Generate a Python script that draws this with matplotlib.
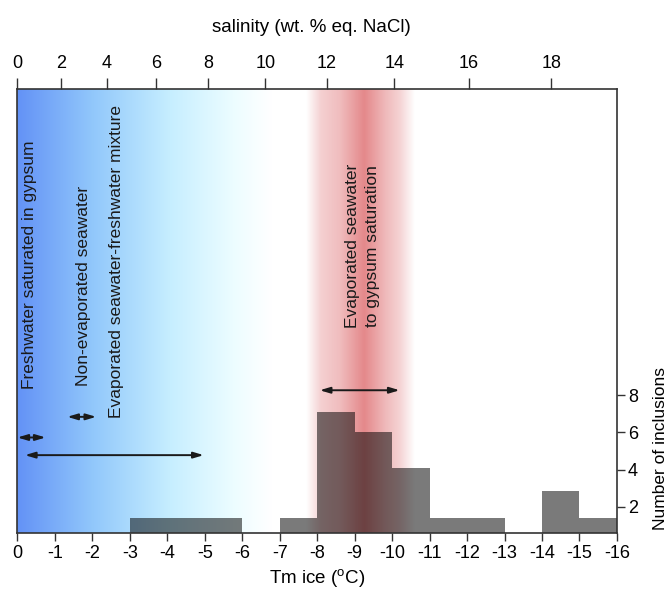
import numpy as np
import matplotlib
matplotlib.use("Agg")
import matplotlib.pyplot as plt
from matplotlib.colors import LinearSegmentedColormap

plt.rcParams['font.family'] = ['Liberation Sans', 'DejaVu Sans']

# histogram of Tm ice (bins of 1 degree, from 0 down to -16)
bin_edges = np.arange(0, -17, -1)
counts = [0, 0, 0, 1.4, 1.4, 1.4, 0, 1.4, 7.1, 6.0, 4.1, 1.4, 1.4, 0, 2.85, 1.4]

sal_ticks = [0, 2, 4, 6, 8, 10, 12, 14, 16, 18]
tm_ticks = list(range(0, -17, -1))
y_ticks = [2, 4, 6, 8]

# double arrows (Tm start, Tm end, y level)
arrows = [
    (0.0, -0.75, 5.73),
    (-1.33, -2.1, 6.84),
    (-0.2, -4.97, 4.78),
    (-8.07, -10.2, 8.27),
]
labels = [
    ("Freshwater saturated in gypsum", -0.33, 15.0),
    ("Non-evaporated seawater", -1.75, 13.9),
    ("Evaporated seawater-freshwater mixture", -2.65, 15.2),
    ("Evaporated seawater\nto gypsum saturation", -9.2, 16.05),
]


def salinity(tm):
    # Bodnar (1993) equation
    t = -np.asarray(tm, dtype=float)
    return 1.78 * t - 0.0442 * t ** 2 + 0.000557 * t ** 3


fig = plt.figure(figsize=(6.72, 5.94), dpi=100)
ax = fig.add_axes([0.026, 0.102, 0.892, 0.749])
ymin, ymax = 0.57, 24.5
ax.set_xlim(0, -16)
ax.set_ylim(ymin, ymax)

# blue background gradient
blue = LinearSegmentedColormap.from_list(
    "blu", [(0, "#6392f6"), (0.3, "#92c8fb"), (0.6, "#c6eeff"), (0.85, "#ecfdff"), (1, "#ffffff")])
grad = np.linspace(0, 1, 256).reshape(1, -1)
ax.imshow(grad, cmap=blue, extent=(0, -6.8, ymin, ymax), aspect='auto', zorder=0)

# red band
xs = np.linspace(-7.7, -10.6, 300)
alpha = np.interp(-xs, [7.7, 8.1, 8.6, 9.25, 9.8, 10.2, 10.6], [0, 0.3, 0.42, 0.75, 0.45, 0.28, 0])
rgba = np.zeros((1, len(xs), 4))
rgba[..., 0] = 0.86
rgba[..., 1] = 0.38
rgba[..., 2] = 0.39
rgba[..., 3] = alpha
ax.imshow(rgba, extent=(-7.7, -10.6, ymin, ymax), aspect='auto', zorder=0.5)

# histogram bars (black with alpha acts like a multiply over the background)
ax.stairs(counts[::-1], bin_edges[::-1], fill=True, color='black', alpha=0.52, lw=0, zorder=1)

for x0, x1, y in arrows:
    ax.annotate("", xy=(x1, y), xytext=(x0, y),
                arrowprops=dict(arrowstyle='<|-|>,head_length=0.6,head_width=0.18',
                                lw=1.4, color='#1a1a1a', shrinkA=0, shrinkB=0),
                zorder=3)

for txt, x, y in labels:
    ax.text(x, y, txt, rotation=90, ha='center', va='center', fontsize=12.5,
            color='#1a1a1a', linespacing=1.4, zorder=3)

for s in ax.spines.values():
    s.set_color('#333333')
    s.set_linewidth(1.2)

ax.set_xticks(tm_ticks)
ax.set_xticklabels([str(t) for t in tm_ticks])
ax.yaxis.tick_right()
ax.yaxis.set_label_position('right')
ax.set_yticks(y_ticks)
ax.tick_params(axis='both', labelsize=13, length=6, width=1, color='#333333', pad=2)
ax.set_xlabel("Tm ice ($\\mathregular{^o}$C)", fontsize=13.5, labelpad=4)
ax.set_ylabel("Number of inclusions", fontsize=12.5)
ax.yaxis.set_label_coords(1.06, 0.19)

# top salinity axis
grid = np.linspace(0, -20, 2001)
ax2 = ax.twiny()
ax2.set_xlim(ax.get_xlim())
ax2.set_xticks(np.interp(sal_ticks, salinity(grid), grid))
ax2.set_xticklabels([str(s) for s in sal_ticks])
ax2.tick_params(axis='x', labelsize=13, length=8, width=1, color='#333333', pad=4)
for s in ax2.spines.values():
    s.set_visible(False)
fig.text(0.463, 0.953, "salinity (wt. % eq. NaCl)", ha='center', va='center', fontsize=13.5)

fig.savefig("out.png", dpi=100)
